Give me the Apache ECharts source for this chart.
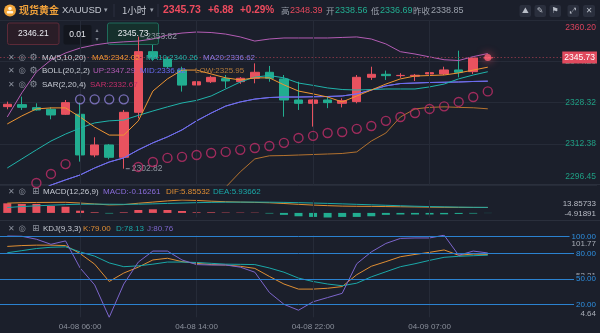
<!DOCTYPE html>
<html>
<head>
<meta charset="utf-8">
<script src="https://cdn.jsdelivr.net/npm/echarts@6/dist/echarts.min.js"></script>
<style>
html,body{margin:0;padding:0;background:#1b1f2b;}
#chart{width:600px;height:333px;}
</style>
</head>
<body>
<div id="chart"></div>
<script>
// ---- hourly candles, XAUUSD ----
const times = [
  '04-08 00:00','04-08 01:00','04-08 02:00','04-08 03:00','04-08 04:00','04-08 06:00','04-08 07:00','04-08 08:00',
  '04-08 09:00','04-08 10:00','04-08 11:00','04-08 12:00','04-08 13:00','04-08 14:00','04-08 15:00','04-08 16:00',
  '04-08 17:00','04-08 18:00','04-08 19:00','04-08 20:00','04-08 21:00','04-08 22:00','04-08 23:00','04-09 00:00',
  '04-09 01:00','04-09 02:00','04-09 03:00','04-09 04:00','04-09 06:00','04-09 07:00','04-09 08:00','04-09 09:00',
  '04-09 10:00','04-09 11:00'
];
const opens  = [2326.79,2327.56,2326.40,2325.76,2323.83,2323.83,2308.13,2311.99,2307.23,2324.60,2348.02,2345.08,2340.90,2335.15,2336.40,2337.60,2336.44,2337.73,2340.05,2337.47,2329.36,2328.07,2329.36,2328.07,2328.72,2338.11,2339.27,2338.76,2338.56,2339.40,2339.40,2340.95,2340.30,2345.60];
const highs  = [2328.72,2330.65,2328.07,2326.53,2329.36,2328.33,2314.95,2312.37,2325.50,2353.82,2350.60,2346.00,2342.20,2337.70,2338.70,2339.00,2338.20,2343.50,2342.50,2339.00,2336.40,2329.60,2330.90,2330.00,2339.00,2342.20,2340.70,2339.70,2339.40,2340.60,2342.20,2348.39,2345.90,2345.90];
const lows   = [2325.76,2325.50,2325.25,2321.90,2323.57,2305.55,2307.25,2306.45,2302.82,2322.28,2344.50,2341.60,2332.60,2331.95,2335.90,2333.90,2335.60,2335.80,2336.40,2322.90,2325.50,2319.07,2326.20,2326.50,2328.07,2337.10,2337.10,2337.90,2336.69,2338.40,2339.00,2338.10,2339.40,2345.50];
const closes = [2327.69,2326.53,2325.50,2323.57,2328.33,2308.13,2311.99,2307.23,2324.60,2348.02,2345.58,2342.22,2335.10,2336.40,2338.10,2336.70,2337.73,2340.05,2337.73,2329.36,2328.07,2329.36,2328.33,2329.10,2338.11,2339.27,2338.76,2338.85,2338.90,2339.90,2340.95,2340.05,2345.60,2345.73];

// ---- overlays ----
const ma5   = [2320.1,2323.2,2325.9,2326.3,2326.3,2322.8,2318.9,2315.8,2315.8,2321.3,2332.8,2337.5,2340.9,2340.9,2339.4,2337.9,2337.1,2337.9,2337.9,2335.2,2332.8,2331.7,2330.5,2328.6,2330.9,2333.2,2335.5,2337.5,2338.6,2338.8,2339.0,2339.8,2340.9,2342.02];
const ma10  = [2303.1,2306.6,2310.1,2313.5,2316.2,2318.5,2320.5,2321.3,2321.6,2323.4,2325.1,2326.7,2328.2,2329.2,2330.9,2333.6,2336.3,2338.2,2338.8,2337.9,2335.9,2335.0,2334.0,2333.4,2333.2,2333.4,2333.6,2333.6,2333.6,2334.4,2335.5,2337.5,2339.0,2340.26];
const ma20  = [2288.7,2291.5,2293.8,2296.5,2298.5,2300.4,2303.1,2305.4,2307.0,2310.1,2312.8,2315.1,2317.8,2321.3,2324.3,2327.0,2328.6,2329.7,2330.3,2330.5,2330.5,2330.6,2330.7,2330.9,2331.7,2333.2,2334.8,2335.7,2335.9,2336.1,2336.2,2336.3,2336.5,2336.62];
const bollUp  = [2322.8,2332.1,2340.2,2344.8,2347.5,2349.4,2350.6,2351.4,2351.8,2352.1,2352.9,2354.4,2355.2,2355.6,2355.4,2354.8,2353.7,2352.1,2352.9,2353.3,2353.3,2353.3,2353.3,2353.5,2353.7,2352.9,2351.0,2348.0,2347.1,2346.0,2344.9,2344.6,2346.1,2347.29];
const bollLow = [2254.0,2251.0,2248.0,2248.0,2249.0,2251.0,2255.0,2259.0,2263.0,2268.0,2273.0,2277.0,2281.0,2286.0,2291.0,2295.7,2301.6,2306.6,2307.8,2307.9,2308.1,2308.3,2308.5,2308.7,2309.3,2313.5,2316.6,2322.8,2325.9,2326.5,2326.7,2326.5,2326.35,2325.95];
const sar   = [2291.0,2294.0,2297.3,2300.8,2304.6,2329.6,2329.6,2329.6,2329.6,2303.5,2305.4,2307.0,2307.4,2308.1,2308.9,2309.3,2310.1,2310.8,2311.6,2312.8,2314.7,2315.5,2316.6,2317.0,2318.2,2319.3,2321.3,2322.8,2324.3,2325.9,2326.9,2328.6,2330.5,2332.67];

// ---- MACD(12,26,9) ----
const macdHist = [10.3,9.6,9.6,7.4,6.67,2.38,0.66,-0.6,0.6,3.1,3.88,3.1,2.06,0.66,0.66,0.4,0.35,0.3,-0.6,-2.1,-3.6,-4.3,-4.91891,-4.3,-4.3,-3.6,-2.1,-1.7,-1.7,-1.7,-1.5,-1.1,-0.7,-0.16261];
const dif = [10.5,11.0,11.2,11.3,11.4,10.6,9.6,8.6,8.9,10.4,11.6,12.9,13.85733,13.4,12.6,12.0,11.6,11.3,10.9,10.1,9.2,8.4,7.8,7.3,7.1,7.0,6.8,6.6,6.4,6.2,6.05,5.95,5.88,5.85532];
const dea = [5.8,6.8,7.6,8.3,8.9,9.3,9.4,9.3,9.2,9.3,9.7,10.2,10.6,11.0,11.3,11.5,11.6,11.6,11.5,11.3,11.0,10.6,10.2,9.7,9.2,8.7,8.2,7.7,7.2,6.8,6.5,6.2,6.0,5.93662];

// ---- KDJ(9,3,3) ----
const kLine = [88.5,89.5,90,90,89.5,80,67.5,47,57,64,72.5,74.5,70.5,68.5,67,66.5,65,62.5,53,44,38,38,39,41,55,65,70.5,76.3,79,81.5,84.3,78,79.5,79.00];
const dLine = [81,83.5,86,87.5,88,82,77,69,64.5,65.5,67.5,70,70,69.5,68.5,67.5,67.3,67,63,58,51,47,44,42,45,52.5,58.5,64.5,68,72,75.6,76.8,77.5,78.13];
const jLine = [100.8,100.5,97,91,95,63,43,4.64,44,70,83,83,72.5,67,66.5,66.5,64,58,34,20,13,23,28,33,68,82,92,98,98.5,98.5,101.77,78,83,80.76];

// ---- axis ticks ----
const priceTicks = ['2296.45','2312.38','2328.32','2344.26','2360.20'];
const macdTicks  = ['-4.91891','13.85733'];
const kdjTicks   = ['4.64','53.21','101.77'];
const kdjLevels  = [100, 80, 50, 20];
const labelTimes = ['04-08 06:00','04-08 14:00','04-08 22:00','04-09 07:00'];

// ---- quote header ----
const quoteName = '现货黄金', quoteCode = 'XAUUSD', period = '1小时';
const lastPrice = 2345.73, change = 6.88, changePct = 0.29;
const dayHigh = 2348.39, dayOpen = 2338.56, dayLow = 2336.69, prevClose = 2338.85;
const bidPrice = 2346.21, lotStep = 0.01, askPrice = 2345.73;

const BG = '#1b1f2b';
const RED = '#e8525f', GREEN = '#22ad90';
const C_MA5 = '#ee9532', C_MA10 = '#20b3aa', C_MA20 = '#8a78e0', C_MID = '#6a6cf2', C_UP = '#b35cb4', C_LOW = '#b3722f';
const C_SAR = '#c22e69', C_SAR_TOP = '#8d80d6';
const C_K = '#df8e33', C_D = '#1aa8a8', C_J = '#7d66cc', C_LVL = '#2b82d0';
const GRID_LINE = '#262b38', TXT = '#c6cad3', DIM = '#8b909c';
const FONT = 'Liberation Sans, Arial, sans-serif';
const CJK = 'Noto Sans CJK SC, sans-serif';

const N = times.length;
const padCats = [];
for (let k = 1; k <= 7; k++) padCats.push(' '.repeat(k));
const cats = times.concat(padCats);
const last = N - 1;
const labelIdx = labelTimes.map(t => times.indexOf(t));

const candleData = opens.map((o, i) => [o, closes[i], lows[i], highs[i]]);
let hiIdx = 0, loIdx = 0;
highs.forEach((v, i) => { if (v > highs[hiIdx]) hiIdx = i; });
lows.forEach((v, i) => { if (v < lows[loIdx]) loIdx = i; });

const vLines = labelIdx.map(i => ({ xAxis: i, lineStyle: { color: GRID_LINE, type: 'solid', width: 1 }, label: { show: false } }));

function txt(x, y, text, fill, size, opts) {
  opts = opts || {};
  return {
    type: 'text', x: x, y: y, silent: true, z: 50,
    style: {
      text: text, fill: fill,
      font: (opts.weight || 'normal') + ' ' + size + 'px ' + (opts.family || FONT),
      verticalAlign: 'middle', align: opts.align || 'left'
    }
  };
}
// panels sit beneath the plotted marks
function box(x, y, w, h, fill, stroke, r) {
  return { type: 'rect', silent: true, z: 0, shape: { x: x, y: y, width: w, height: h, r: r || 2 }, style: { fill: fill, stroke: stroke || null, lineWidth: 1 } };
}
function btn(x, y, w, h) {
  return { type: 'rect', silent: true, z: 49, shape: { x: x, y: y, width: w, height: h, r: 2 }, style: { fill: '#2a2f3d' } };
}
function hline(y, color) {
  return { type: 'line', silent: true, z: 1, shape: { x1: 0, y1: y, x2: 600, y2: y }, style: { stroke: color, lineWidth: 1 } };
}

const sign = v => (v >= 0 ? '+' : '');
const graphics = [
  // coin badge
  { type: 'circle', silent: true, z: 50, shape: { cx: 10, cy: 10.5, r: 6 }, style: { fill: '#f0a53a' } },
  { type: 'circle', silent: true, z: 51, shape: { cx: 10, cy: 8.6, r: 1.8 }, style: { fill: '#fff4dc' } },
  { type: 'rect', silent: true, z: 51, shape: { x: 6.8, y: 11, width: 6.4, height: 2.6, r: 1 }, style: { fill: '#fff4dc' } },
  txt(19, 10.5, quoteName, '#f0a13a', 10, { weight: 'bold', family: CJK }),
  txt(62, 10.5, quoteCode, '#c3c7d0', 9.5),
  txt(104, 10, '▾', '#9aa0ab', 7, { family: 'DejaVu Sans' }),
  { type: 'line', silent: true, z: 50, shape: { x1: 114, y1: 4, x2: 114, y2: 17 }, style: { stroke: '#2c3140', lineWidth: 1 } },
  txt(122, 10.5, period, '#c3c7d0', 9.5, { family: CJK }),
  txt(150, 10, '▾', '#9aa0ab', 7, { family: 'DejaVu Sans' }),
  { type: 'line', silent: true, z: 50, shape: { x1: 158, y1: 4, x2: 158, y2: 17 }, style: { stroke: '#2c3140', lineWidth: 1 } },
  txt(163, 10.5, lastPrice.toFixed(2), '#ee4b5e', 10.5, { weight: 'bold' }),
  txt(208, 10.5, sign(change) + change.toFixed(2), '#ee4b5e', 10, { weight: 'bold' }),
  txt(240, 10.5, sign(changePct) + changePct.toFixed(2) + '%', '#ee4b5e', 10, { weight: 'bold' }),
  txt(281, 10.5, '高', '#9aa0ab', 8.5, { family: CJK }),
  txt(290, 10.5, dayHigh.toFixed(2), '#e4485c', 9),
  txt(326, 10.5, '开', '#9aa0ab', 8.5, { family: CJK }),
  txt(335, 10.5, dayOpen.toFixed(2), GREEN, 9),
  txt(371, 10.5, '低', '#9aa0ab', 8.5, { family: CJK }),
  txt(380, 10.5, dayLow.toFixed(2), GREEN, 9),
  txt(413, 10.5, '昨收', '#9aa0ab', 8.5, { family: CJK }),
  txt(431, 10.5, prevClose.toFixed(2), '#9aa0ab', 9),
  // tool buttons
  btn(519.5, 5, 11.5, 12), txt(525.2, 11, '⛰', '#b9bec8', 8, { family: 'DejaVu Sans', align: 'center' }),
  btn(534.5, 5, 11.5, 12), txt(540.2, 11, '✎', '#b9bec8', 8, { family: 'DejaVu Sans', align: 'center' }),
  btn(549.5, 5, 11.5, 12), txt(555.2, 11, '⚑', '#b9bec8', 8, { family: 'DejaVu Sans', align: 'center' }),
  btn(567.5, 5, 11.5, 12), txt(573.2, 11, '⤢', '#b9bec8', 8, { family: 'DejaVu Sans', align: 'center' }),
  btn(583, 5, 12, 12), txt(589, 11, '✕', '#b9bec8', 8, { family: 'DejaVu Sans', align: 'center' }),
  // order boxes
  box(7.5, 23, 51.5, 21.5, '#2a1d27', '#5c2a38', 2), txt(33.3, 34, bidPrice.toFixed(2), '#e6e8ee', 8.5, { align: 'center' }),
  box(63.5, 25, 28, 19.5, '#13161e', null, 2), txt(77.5, 34.5, lotStep.toFixed(2), '#e6e8ee', 8.5, { align: 'center' }),
  txt(97, 30, '▴', '#7d828d', 6, { family: 'DejaVu Sans', align: 'center' }),
  txt(97, 39, '▾', '#7d828d', 6, { family: 'DejaVu Sans', align: 'center' }),
  box(107.5, 23, 51, 21.5, '#15302c', '#1f6b5b', 2), txt(133, 34, askPrice.toFixed(2), '#e6e8ee', 8.5, { align: 'center' }),
  // indicator legends (main pane)
  txt(8, 57.5, '✕', DIM, 8, { family: 'DejaVu Sans' }), txt(18.5, 57.5, '◎', DIM, 8.5, { family: 'DejaVu Sans' }), txt(29.5, 57.5, '⚙', DIM, 9, { family: 'DejaVu Sans' }),
  txt(42, 57.5, 'MA(5,10,20)', TXT, 8),
  txt(92, 57.5, 'MA5:' + ma5[last].toFixed(2), C_MA5, 8),
  txt(146, 57.5, 'MA10:' + ma10[last].toFixed(2), C_MA10, 8),
  txt(203, 57.5, 'MA20:' + ma20[last].toFixed(2), C_MA20, 8),
  txt(8, 71, '✕', DIM, 8, { family: 'DejaVu Sans' }), txt(18.5, 71, '◎', DIM, 8.5, { family: 'DejaVu Sans' }), txt(29.5, 71, '⚙', DIM, 9, { family: 'DejaVu Sans' }),
  txt(42, 71, 'BOLL(20,2,2)', TXT, 8),
  txt(93, 71, 'UP:' + bollUp[last].toFixed(2), C_UP, 8),
  txt(140, 71, 'MID:' + ma20[last].toFixed(2), C_MID, 8),
  txt(195, 71, 'LOW:' + bollLow[last].toFixed(2), '#b47a3a', 8),
  txt(8, 84.5, '✕', DIM, 8, { family: 'DejaVu Sans' }), txt(18.5, 84.5, '◎', DIM, 8.5, { family: 'DejaVu Sans' }), txt(29.5, 84.5, '⚙', DIM, 9, { family: 'DejaVu Sans' }),
  txt(42, 84.5, 'SAR(2,20,4)', TXT, 8),
  txt(90, 84.5, 'SAR:' + sar[last].toFixed(2), C_SAR, 8),
  // MACD legend
  hline(184.5, '#2a2f3c'),
  txt(8, 192, '✕', DIM, 8, { family: 'DejaVu Sans' }), txt(18.5, 192, '◎', DIM, 8.5, { family: 'DejaVu Sans' }), txt(32, 192, '⊞', DIM, 9, { family: 'DejaVu Sans' }),
  txt(43, 192, 'MACD(12,26,9)', TXT, 8),
  txt(103, 192, 'MACD:' + macdHist[last].toFixed(5), '#8a6ddc', 8),
  txt(166, 192, 'DIF:' + dif[last].toFixed(5), C_K, 8),
  txt(213, 192, 'DEA:' + dea[last].toFixed(5), C_D, 8),
  // KDJ legend
  hline(220.5, '#2a2f3c'),
  txt(8, 228.5, '✕', DIM, 8, { family: 'DejaVu Sans' }), txt(18.5, 228.5, '◎', DIM, 8.5, { family: 'DejaVu Sans' }), txt(32, 228.5, '⊞', DIM, 9, { family: 'DejaVu Sans' }),
  txt(43, 228.5, 'KDJ(9,3,3)', TXT, 8),
  txt(83, 228.5, 'K:' + kLine[last].toFixed(2), C_K, 8),
  txt(116, 228.5, 'D:' + dLine[last].toFixed(2), C_D, 8),
  txt(147, 228.5, 'J:' + jLine[last].toFixed(2), C_J, 8)
];

const gridL = -1, gridR = 3;
function catAxis(gi, showLabels) {
  return {
    type: 'category', gridIndex: gi, data: cats, boundaryGap: true,
    axisLine: { show: false }, axisTick: { show: false }, splitLine: { show: false },
    axisLabel: showLabels ? {
      show: true, color: DIM, fontSize: 8, fontFamily: FONT, margin: 5,
      interval: (idx) => labelIdx.indexOf(idx) >= 0
    } : { show: false }
  };
}
function hostSeries(xi, extra) {
  return {
    type: 'line', xAxisIndex: xi, yAxisIndex: xi, data: cats.map(() => null), z: 0, silent: true,
    symbol: 'none', lineStyle: { opacity: 0 },
    markLine: { silent: true, symbol: ['none', 'none'], animation: false, data: vLines.concat(extra || []) }
  };
}
function lineSeries(xi, data, color, z) {
  return { type: 'line', xAxisIndex: xi, yAxisIndex: xi, data: data, symbol: 'none', smooth: false, z: z || 3,
    lineStyle: { color: color, width: 1 }, itemStyle: { color: color }, silent: true, animation: false };
}

// edge tick labels are nudged inward a little more than the plain top/bottom alignment
function edgeLabel(ticks, lastIdx, colorOf) {
  return (v, i) => {
    const c = colorOf(Number(v));
    if (i === lastIdx) return '{' + c + 'T|' + ticks[i] + '}';
    if (i === 0) return '{' + c + 'B|' + ticks[i] + '}';
    return '{' + c + '|' + ticks[i] + '}';
  };
}
function edgeRich(colors, topPad, botPad, size) {
  const rich = {};
  Object.keys(colors).forEach(k => {
    rich[k] = { color: colors[k], fontSize: size, fontFamily: FONT };
    rich[k + 'T'] = { color: colors[k], fontSize: size, fontFamily: FONT, padding: [topPad, 0, 0, 0] };
    rich[k + 'B'] = { color: colors[k], fontSize: size, fontFamily: FONT, padding: [0, 0, botPad, 0] };
  });
  return rich;
}

const option = {
  backgroundColor: BG,
  animation: false,
  graphic: graphics,
  grid: [
    { left: gridL, right: gridR, top: 20.1, height: 165.1 },
    { left: gridL, right: gridR, top: 200, height: 17.5 },
    { left: gridL, right: gridR, top: 235.2, height: 82.1 }
  ],
  xAxis: [catAxis(0, false), catAxis(1, false), catAxis(2, true)],
  yAxis: [
    {
      type: 'value', gridIndex: 0, position: 'right', min: 2296.45, max: 2360.20, interval: 15.9375,
      axisLine: { show: false }, axisTick: { show: false },
      splitLine: { show: true, lineStyle: { color: GRID_LINE, width: 1 } },
      axisLabel: {
        inside: true, margin: 1, showMinLabel: true, showMaxLabel: true,
        formatter: edgeLabel(priceTicks, priceTicks.length - 1, v => (v > lastPrice ? 'up' : 'dn')),
        rich: edgeRich({ up: '#d8435c', dn: '#1f9e83' }, 3, 4, 8.5),
        verticalAlignMinLabel: 'bottom', verticalAlignMaxLabel: 'top'
      }
    },
    {
      type: 'value', gridIndex: 1, position: 'right', min: -4.91891, max: 13.85733, interval: 18.77624,
      axisLine: { show: false }, axisTick: { show: false }, splitLine: { show: false },
      axisLabel: {
        inside: true, margin: 1, showMinLabel: true, showMaxLabel: true, hideOverlap: false,
        formatter: edgeLabel(macdTicks, macdTicks.length - 1, () => 'g'),
        rich: edgeRich({ g: '#b8bcc6' }, 0, 0, 8),
        verticalAlignMinLabel: 'bottom', verticalAlignMaxLabel: 'top'
      }
    },
    {
      type: 'value', gridIndex: 2, position: 'right', min: 4.64, max: 101.77, interval: 48.565,
      axisLine: { show: false }, axisTick: { show: false }, splitLine: { show: false },
      axisLabel: {
        inside: true, margin: 1, showMinLabel: true, showMaxLabel: true,
        formatter: edgeLabel(kdjTicks, kdjTicks.length - 1, () => 'g'),
        rich: edgeRich({ g: '#a9aeb8' }, 5, 0, 8),
        verticalAlignMinLabel: 'bottom', verticalAlignMaxLabel: 'top'
      }
    }
  ],
  series: [
    // main pane
    hostSeries(0, [{
      yAxis: closes[last],
      lineStyle: { color: '#7c3444', type: [1.5, 2], width: 1 },
      label: {
        show: true, position: 'insideEndTop', verticalAlign: 'middle', distance: 0,
        formatter: () => closes[last].toFixed(2),
        color: '#ffffff', backgroundColor: '#e04a5e', padding: [2, 2, 1, 2], fontSize: 8.5, fontFamily: FONT
      }
    }]),
    {
      type: 'candlestick', xAxisIndex: 0, yAxisIndex: 0, data: candleData, barWidth: 9, z: 2, silent: true,
      itemStyle: { color: RED, color0: GREEN, borderColor: RED, borderColor0: GREEN, borderWidth: 1 },
      markPoint: {
        silent: true, animation: false,
        symbol: 'rect', symbolSize: [4, 1], symbolOffset: [4, 0],
        itemStyle: { color: '#8c919c' },
        label: { show: true, position: 'right', distance: 2, color: '#8f949f', fontSize: 8.5, fontFamily: FONT,
          formatter: p => Number(p.value).toFixed(2) },
        data: [
          { coord: [hiIdx, highs[hiIdx]], value: highs[hiIdx] },
          { coord: [loIdx, lows[loIdx]], value: lows[loIdx] }
        ]
      }
    },
    lineSeries(0, ma20, C_MA20, 3),
    lineSeries(0, ma20, C_MID, 3),
    lineSeries(0, bollUp, C_UP, 3),
    lineSeries(0, bollLow, C_LOW, 3),
    lineSeries(0, ma10, C_MA10, 4),
    lineSeries(0, ma5, C_MA5, 4),
    {
      type: 'scatter', xAxisIndex: 0, yAxisIndex: 0, symbol: 'circle', symbolSize: 9, z: 5, silent: true,
      data: sar.map((v, i) => ({ value: [i, v], itemStyle: { color: 'rgba(0,0,0,0)', borderColor: v > highs[i] ? C_SAR_TOP : C_SAR, borderWidth: 1.4 } }))
    },
    {
      type: 'scatter', xAxisIndex: 0, yAxisIndex: 0, symbol: 'circle', symbolSize: 7, z: 6, silent: true,
      itemStyle: { color: '#ff6275', shadowBlur: 8, shadowColor: '#ff4d63' },
      data: [[last, closes[last]]]
    },
    // MACD pane
    hostSeries(1),
    {
      type: 'bar', xAxisIndex: 1, yAxisIndex: 1, barWidth: 8, z: 2, silent: true,
      data: macdHist.map(v => ({ value: v, itemStyle: { color: v >= 0 ? RED : GREEN } }))
    },
    lineSeries(1, dif, C_K, 3),
    lineSeries(1, dea, C_D, 3),
    // KDJ pane
    hostSeries(2, kdjLevels.map(v => ({
      yAxis: v,
      lineStyle: { color: C_LVL, type: 'solid', width: 1 },
      label: {
        show: true, position: 'insideEndTop', verticalAlign: 'middle', distance: 0,
        formatter: () => v.toFixed(2),
        color: '#2e8fe0', backgroundColor: BG, padding: [0, 1, 0, 2], fontSize: 8, fontFamily: FONT
      }
    }))),
    lineSeries(2, kLine, C_K, 3),
    lineSeries(2, dLine, C_D, 3),
    lineSeries(2, jLine, C_J, 3)
  ]
};

const chart = echarts.init(document.getElementById('chart'), null, { renderer: 'canvas' });
chart.setOption(option);
</script>
</body>
</html>
